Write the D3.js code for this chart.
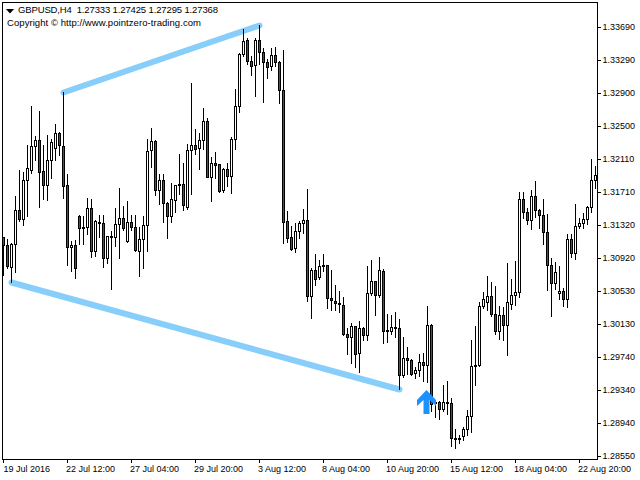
<!DOCTYPE html>
<html>
<head>
<meta charset="utf-8">
<script src="https://cdn.jsdelivr.net/npm/d3@7/dist/d3.min.js"></script>
<style>
html,body{margin:0;padding:0;background:#fff}
svg{display:block}
text{font-family:"Liberation Sans",Arial,sans-serif;fill:#000}
</style>
</head>
<body>
<script>
const opens=[1.31174,1.31078,1.30814,1.31090,1.31497,1.31389,1.31857,1.31976,1.32264,1.32336,1.31964,1.31797,1.32096,1.32240,1.32420,1.32264,1.31797,1.31054,1.31078,1.31425,1.31282,1.31294,1.31521,1.31006,1.31341,1.31341,1.30922,1.31174,1.31174,1.31330,1.31401,1.31126,1.31353,1.31294,1.31006,1.31150,1.31318,
1.32216,1.32324,1.31737,1.31857,1.31581,1.31425,1.31617,1.31797,1.31809,1.31533,1.32216,1.32276,1.32240,1.32336,1.32563,1.31893,1.32060,1.32048,1.31737,1.31988,1.31905,1.32348,1.32743,1.33366,1.33534,1.33282,1.33234,1.33534,1.33390,1.33270,1.33222,1.33354,1.33270,1.32935,
1.31365,1.31174,1.31042,1.31246,1.31341,1.31377,1.30467,1.30778,1.30695,1.30826,1.30838,1.30443,1.30407,1.30371,1.30359,1.30012,1.29976,1.30108,1.29784,1.30084,1.30000,1.30503,1.30647,1.30479,1.30766,1.30048,1.30048,1.30084,1.30084,1.29520,1.29724,1.29700,1.29544,1.29580,1.29676,
1.29640,1.30119,1.29185,1.29197,1.29113,1.29185,1.29185,1.28754,1.28754,1.28790,1.28874,1.29029,1.29628,1.29640,1.30347,1.30395,1.30467,1.30251,1.30048,1.30239,1.30119,1.30371,1.30479,1.30515,1.31629,1.31473,1.31377,1.31665,1.31497,1.31437,1.31234,1.30838,1.30623,1.30503,1.30527,1.30431,1.31150,1.30982,1.31306,1.31341,1.31389,1.31533,1.31857];
const highs=[1.31174,1.31150,1.31102,1.31665,1.31976,1.31952,1.32276,1.32743,1.32384,1.32683,1.32276,1.32396,1.32348,1.32527,1.32432,1.32911,1.31929,1.31126,1.31138,1.31437,1.31425,1.31641,1.31629,1.31377,1.31437,1.31437,1.31186,1.31246,1.31521,1.31761,1.31545,1.31605,1.31437,1.31437,1.31294,1.31425,1.32348,
1.32479,1.32336,1.31929,1.31929,1.31593,1.31821,1.31797,1.32168,1.32060,1.32288,1.33019,1.32467,1.32420,1.32719,1.32599,1.32132,1.32192,1.32048,1.32000,1.32060,1.32372,1.32947,1.33378,1.33666,1.33558,1.33342,1.33558,1.33714,1.33438,1.33306,1.33438,1.33450,1.33282,1.33414,
1.31485,1.31306,1.31341,1.31365,1.31509,1.31749,1.30802,1.30970,1.30898,1.30970,1.30838,1.30778,1.30599,1.30527,1.30455,1.30084,1.30143,1.30108,1.30167,1.30096,1.30826,1.30898,1.30647,1.30934,1.30790,1.30251,1.30239,1.30275,1.30191,1.29976,1.29856,1.29712,1.29616,1.29772,1.29784,
1.30347,1.30131,1.29221,1.29209,1.29401,1.29448,1.29245,1.28874,1.28802,1.28898,1.29101,1.29940,1.30108,1.30395,1.30515,1.30707,1.30635,1.30587,1.30347,1.30335,1.30862,1.30671,1.30886,1.31713,1.31713,1.31521,1.31737,1.31845,1.31509,1.31629,1.31449,1.30922,1.30874,1.30826,1.30563,1.31210,1.31210,1.31569,1.31401,1.31461,1.31545,1.32108,1.32024];
const lows=[1.30719,1.30802,1.30635,1.30754,1.31365,1.31318,1.31425,1.31941,1.32096,1.31533,1.31629,1.31617,1.31881,1.32096,1.32156,1.31641,1.30838,1.30766,1.30683,1.31090,1.31090,1.31210,1.30934,1.30946,1.31174,1.30814,1.30862,1.30551,1.31066,1.30922,1.31258,1.31114,1.31258,1.31006,1.30707,1.30802,1.31006,
1.32012,1.31677,1.31569,1.31353,1.31162,1.31353,1.31473,1.31689,1.31497,1.31509,1.31689,1.32168,1.31988,1.32228,1.31893,1.31605,1.31881,1.31713,1.31713,1.31785,1.31701,1.32228,1.32671,1.33342,1.33246,1.33114,1.32863,1.33246,1.32791,1.33079,1.33174,1.33222,1.32779,1.31102,
1.31114,1.31018,1.30994,1.31162,1.31222,1.30407,1.30203,1.30599,1.30671,1.30766,1.30323,1.30299,1.30299,1.30275,1.30000,1.29772,1.29664,1.29616,1.29556,1.29940,1.29940,1.30479,1.30239,1.30455,1.29904,1.29916,1.30012,1.29976,1.29353,1.29496,1.29532,1.29520,1.29484,1.29508,1.29448,
1.29437,1.29089,1.29017,1.28993,1.29089,1.29053,1.28670,1.28646,1.28706,1.28742,1.28802,1.28838,1.29401,1.29628,1.30323,1.30299,1.30227,1.30012,1.29952,1.29940,1.29760,1.30311,1.30359,1.30455,1.31401,1.31330,1.31270,1.31413,1.31282,1.31090,1.30539,1.30227,1.30551,1.30431,1.30347,1.30335,1.30934,1.30910,1.31282,1.31282,1.31330,1.31473,1.31761];
const closes=[1.31078,1.30826,1.31090,1.31497,1.31389,1.31857,1.32000,1.32264,1.32336,1.31952,1.31797,1.32096,1.32312,1.32420,1.32276,1.31785,1.31054,1.31078,1.30802,1.31282,1.31294,1.31521,1.31006,1.31365,1.31353,1.30922,1.31186,1.31186,1.31330,1.31401,1.31282,1.31353,1.31294,1.31018,1.31150,1.31318,1.32204,
1.32324,1.31737,1.31857,1.31581,1.31425,1.31629,1.31797,1.31809,1.31557,1.32216,1.32276,1.32228,1.32336,1.32563,1.31893,1.32060,1.32036,1.31725,1.31988,1.31905,1.32348,1.32743,1.33366,1.33522,1.33282,1.33222,1.33534,1.33390,1.33270,1.33210,1.33354,1.33270,1.32935,1.31353,
1.31162,1.31030,1.31246,1.31341,1.31377,1.30467,1.30778,1.30671,1.30826,1.30838,1.30443,1.30419,1.30383,1.30383,1.30012,1.29976,1.30108,1.29772,1.30084,1.30000,1.30503,1.30647,1.30479,1.30778,1.30048,1.30060,1.30096,1.30096,1.29520,1.29724,1.29700,1.29532,1.29580,1.29676,1.29640,
1.30119,1.29173,1.29197,1.29113,1.29197,1.29197,1.28766,1.28766,1.28766,1.28874,1.29029,1.29628,1.29640,1.30347,1.30431,1.30467,1.30251,1.30048,1.30239,1.30119,1.30395,1.30479,1.30515,1.31629,1.31473,1.31377,1.31665,1.31497,1.31437,1.31234,1.30838,1.30623,1.30754,1.30527,1.30431,1.31150,1.30982,1.31306,1.31341,1.31389,1.31533,1.31857,1.31917];
const priceTicks=[1.33690,1.33290,1.32900,1.32500,1.32110,1.31710,1.31320,1.30920,1.30530,1.30130,1.29740,1.29340,1.28940,1.28550];
const timeTickLabels=["19 Jul 2016","22 Jul 12:00","27 Jul 04:00","29 Jul 20:00","3 Aug 12:00","8 Aug 04:00","10 Aug 20:00","15 Aug 12:00","18 Aug 04:00","22 Aug 20:00"];
const timeTickIndex=[0,16,32,48,64,80,96,112,128,144];
const channelIndex=[[15,64],[2,99]];
const channelSide=["high","low"];
const arrowIndex=106;
const arrowPrice=1.29341;
const titleLine="GBPUSD,H4  1.27333 1.27425 1.27295 1.27368";
const copyrightLine="Copyright \u00A9 http://www.pointzero-trading.com";

const W=640,H=480;
const svg=d3.select("body").append("svg").attr("width",W).attr("height",H);
svg.append("rect").attr("width",W).attr("height",H).attr("fill","#fff");

const x=d3.scaleLinear().domain([0,148]).rangeRound([3,595]);
const y=d3.scaleLinear().domain([1.2855,1.3369]).rangeRound([456,27]);
const cx=i=>x(i)+0.5, cy=p=>y(p)+0.5;

// channel lines behind the candles
const series={high:highs,low:lows};
channelIndex.forEach((pair,k)=>{
  const s=series[channelSide[k]];
  svg.append("path")
    .attr("d",d3.line().x(i=>cx(i)).y(i=>cy(s[i]))(pair))
    .attr("fill","none").attr("stroke","#87CEFA").attr("stroke-width",6).attr("stroke-linecap","round");
});

const candles=svg.append("g").attr("shape-rendering","crispEdges");
const idx=d3.range(opens.length);
candles.selectAll("line").data(idx).join("line")
  .attr("x1",cx).attr("x2",cx)
  .attr("y1",i=>y(highs[i])).attr("y2",i=>y(lows[i])+1)
  .attr("stroke","#000");
candles.selectAll("rect").data(idx).join("rect")
  .attr("x",i=>cx(i)-1).attr("width",2)
  .attr("y",i=>cy(Math.max(opens[i],closes[i])))
  .attr("height",i=>Math.max(1,y(Math.min(opens[i],closes[i]))-y(Math.max(opens[i],closes[i]))))
  .attr("fill",i=>closes[i]<opens[i]?"#e81010":"#fff")
  .attr("stroke","#000");

// buy arrow
const ax=cx(arrowIndex)-1, ay=y(arrowPrice);
const arrowShape=[[0,0],[9.5,10],[9.5,16],[3,10],[3,24],[-3,24],[-3,10],[-9.5,16],[-9.5,10]];
svg.append("path")
  .attr("d",d3.line().x(d=>ax+d[0]).y(d=>ay+d[1]).curve(d3.curveLinearClosed)(arrowShape))
  .attr("fill","#1E90FF");

// frame
svg.append("rect").attr("x",2.5).attr("y",2.5).attr("width",595).attr("height",457)
  .attr("fill","none").attr("stroke","#000").attr("shape-rendering","crispEdges");

// axes
const yAxis=d3.axisRight(y).tickValues(priceTicks).tickFormat(d3.format(".5f")).tickSize(4).tickPadding(2);
const yg=svg.append("g").attr("transform","translate(597,0)").call(yAxis);
yg.select(".domain").remove();
yg.selectAll("line").attr("stroke","#000");
yg.selectAll("text").attr("font-size",9).attr("fill","#000").attr("font-family",'"Liberation Sans"').attr("x",5.5);

const xAxis=d3.axisBottom(x).tickValues(timeTickIndex).tickFormat((d,i)=>timeTickLabels[i]).tickSize(4).tickPadding(2);
const xg=svg.append("g").attr("transform","translate(0,459)").call(xAxis);
xg.select(".domain").remove();
xg.selectAll("line").attr("stroke","#000");
xg.selectAll("text").attr("font-size",9).attr("fill","#000").attr("font-family",'"Liberation Sans"')
  .attr("text-anchor","start").attr("dy",null).attr("y",13).attr("x",(d,i)=>i===0?0:-1.5);

// header
svg.append("path").attr("d",d3.symbol(d3.symbolTriangle,24)())
  .attr("transform","translate(10,10.5) rotate(180) scale(1.1,0.7)").attr("fill","#000");
svg.append("text").attr("x",18).attr("y",13).attr("font-size",9.5).style("white-space","pre")
  .attr("textLength",200).attr("lengthAdjust","spacing").text(titleLine);
svg.append("text").attr("x",7).attr("y",26).attr("font-size",9.5)
  .attr("textLength",194).attr("lengthAdjust","spacing").text(copyrightLine);
</script>
</body>
</html>
